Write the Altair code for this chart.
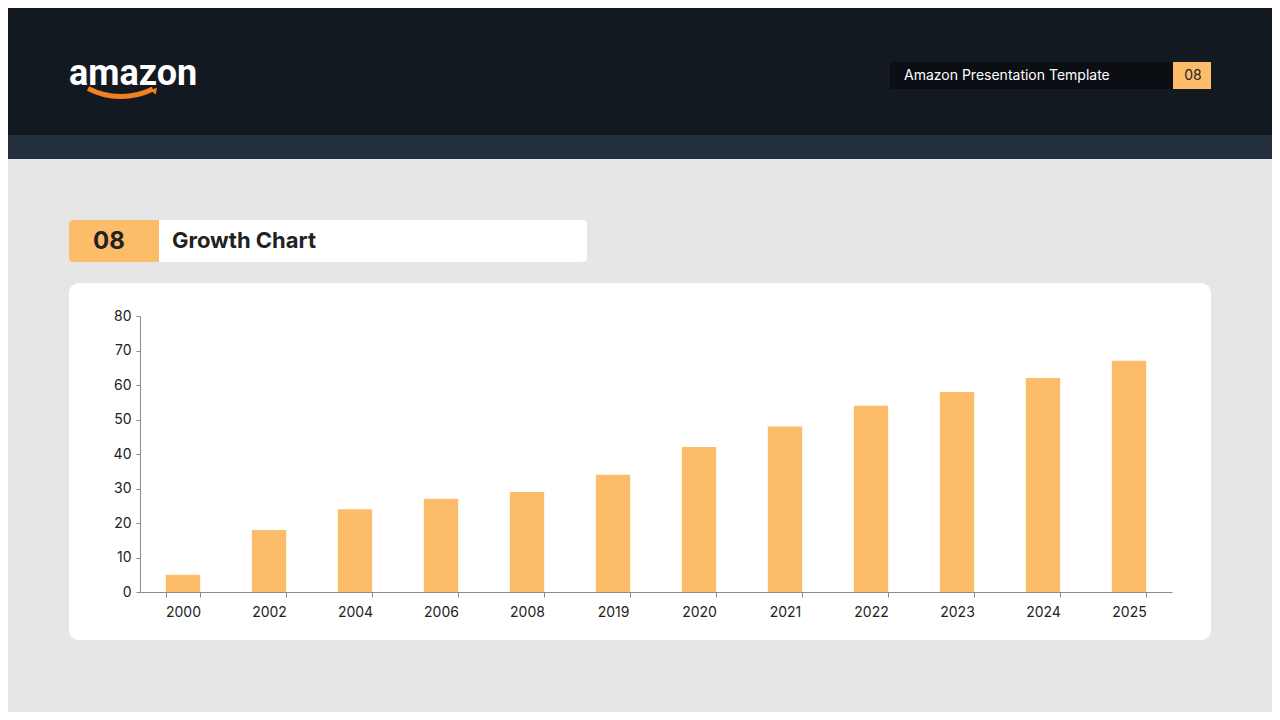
import altair as alt
import pandas as pd

# ---- data ----
years = ["2000", "2002", "2004", "2006", "2008", "2019",
         "2020", "2021", "2022", "2023", "2024", "2025"]
values = [5, 18, 24, 27, 29, 34, 42, 48, 54, 58, 62, 67]
y_ticks = [0, 10, 20, 30, 40, 50, 60, 70, 80]

header_label = "Amazon Presentation Template"
page_no = "08"
title_text = "Growth Chart"
logo_text = "amazon"

FONT = "Inter"
BAR = "#fdbc6a"
DARK = "#131921"
BAND = "#232f3e"
BG = "#e6e6e6"

# plot origin in page pixels (page has an 8px margin)
OX, OY = 140, 316


def px(x):
    return x - OX


def py(y):
    return y - OY


one = alt.Data(values=[{"k": 1}])


def rect(x1, y1, x2, y2, color, **kw):
    return alt.Chart(one).mark_rect(color=color, **kw).encode(
        x=alt.value(px(x1)), x2=alt.value(px(x2)),
        y=alt.value(py(y1)), y2=alt.value(py(y2)))


def text(s, x, y, size, color, weight="normal", align="left",
         baseline="middle", font=FONT):
    return alt.Chart(one).mark_text(
        text=s, fontSize=size, color=color, fontWeight=weight,
        align=align, baseline=baseline, font=font
    ).encode(x=alt.value(px(x)), y=alt.value(py(y)))


# ---- decoration ----
header = rect(0, 0, 1280, 135, DARK)
band = rect(0, 135, 1280, 159, BAND)
pill = rect(890, 62, 1173, 89, "#0b0e13")
pill_num = rect(1173, 62, 1211, 89, BAR)
pill_txt = text(header_label, 904, 76, 14, "#ffffff")
pill_no = text(page_no, 1193, 76, 14, "#222222", align="center")

logo = text(logo_text, 69, 85, 36, "#ffffff", weight="bold",
            baseline="alphabetic", font="Roboto")
smile = alt.Chart(one).mark_arc(color="#f3801f").encode(
    x=alt.value(px(121)), y=alt.value(py(25)),
    radius=alt.value(74), radius2=alt.value(69),
    theta=alt.value(2.68), theta2=alt.value(3.62))
arrow = alt.Chart(one).mark_point(
    shape="triangle-up", filled=True, color="#f3801f", size=50, angle=40,
    opacity=1
).encode(x=alt.value(px(155)), y=alt.value(py(90)))

title_box = rect(69, 220, 159, 262, BAR,
                 cornerRadiusTopLeft=4, cornerRadiusBottomLeft=4)
title_white = rect(159, 220, 587, 262, "#ffffff",
                   cornerRadiusTopRight=4, cornerRadiusBottomRight=4)
title_no = text(page_no, 109, 242, 24, "#222222", weight="bold",
                align="center")
title = text(title_text, 172, 241, 22, "#222222", weight="bold")

card = rect(69, 283, 1211, 640, "#ffffff", cornerRadius=10)

# ---- bars ----
df = pd.DataFrame({"year": years, "value": values})
bars = alt.Chart(df).mark_bar(color=BAR).encode(
    x=alt.X("year:N", sort=years,
            scale=alt.Scale(paddingInner=0.6, paddingOuter=0.3),
            axis=alt.Axis(title=None, labelAngle=0, tickBand="extent",
                          tickSize=5, labelPadding=8,
                          domainColor="#8a8a8a", tickColor="#8a8a8a",
                          labelColor="#222222", labelFontSize=14,
                          labelFont=FONT, zindex=1)),
    y=alt.Y("value:Q", scale=alt.Scale(domain=[0, 80], nice=False),
            axis=alt.Axis(title=None, values=y_ticks, grid=False,
                          tickSize=4, labelPadding=5,
                          domainColor="#8a8a8a", tickColor="#8a8a8a",
                          labelColor="#222222", labelFontSize=14,
                          labelFont=FONT, zindex=1)),
)

chart = alt.layer(
    header, band, pill, pill_num, pill_txt, pill_no,
    logo, smile, arrow,
    title_box, title_white, title_no, title,
    card, bars,
).properties(
    width=1032, height=276,
    autosize=alt.AutoSizeParams(type="none"),
    padding={"left": 132, "top": 308, "right": 100, "bottom": 120},
    background=BG,
).configure_view(strokeWidth=0)

chart.save("out.html", embed_options={"renderer": "svg", "actions": False})
